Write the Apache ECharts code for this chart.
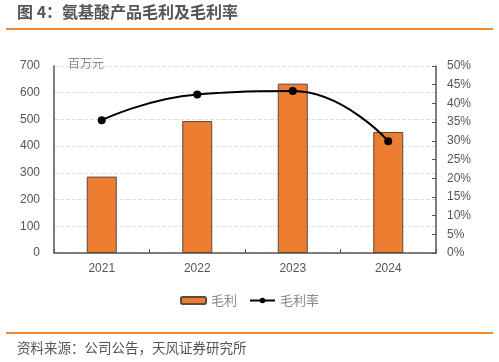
<!DOCTYPE html>
<html><head><meta charset="utf-8">
<script src="https://cdn.jsdelivr.net/npm/echarts@6/dist/echarts.min.js"></script>
<style>html,body{margin:0;padding:0;background:#fff}#c{width:499px;height:362px}</style>
</head><body><div id="c"></div>
<script>
var categories = ['2021', '2022', '2023', '2024'];
var grossProfit = [286, 494, 634, 453];
var grossMargin = [35.5, 42.4, 43.3, 29.9];
var leftTicks = [0, 700, 100];
var rightTicks = [0, 50, 5];
var FF = '"Liberation Sans","Noto Sans CJK SC",sans-serif';
var CJK = '"Noto Sans CJK SC",sans-serif';
var chart = echarts.init(document.getElementById('c'));
chart.setOption({
  animation: false,
  backgroundColor: '#fff',
  graphic: [
    {type: 'text', left: 17, top: 4, style: {text: '图 4：氨基酸产品毛利及毛利率', font: 'bold 16px ' + CJK, fill: '#555'}},
    {type: 'rect', shape: {x: 6, y: 28, width: 487, height: 2}, style: {fill: '#F08A2A'}},
    {type: 'rect', shape: {x: 6, y: 332, width: 487, height: 2}, style: {fill: '#F08A2A'}},
    {type: 'text', left: 17, top: 341, style: {text: '资料来源：公司公告，天风证券研究所', font: '13.5px ' + CJK, fill: '#555'}},
    {type: 'text', left: 68, top: 57, style: {text: '百万元', font: '12px ' + CJK, fill: '#888'}}
  ],
  legend: {
    bottom: 50, left: 'center', itemGap: 12, itemWidth: 25, itemHeight: 7,
    textStyle: {color: '#888', fontSize: 13, fontFamily: CJK},
    data: ['毛利', '毛利率']
  },
  grid: {left: 54, right: 63, top: 66, bottom: 109},
  xAxis: {
    type: 'category', data: categories, boundaryGap: true,
    axisLine: {lineStyle: {color: '#555', width: 1.5}},
    axisTick: {show: true, inside: true, length: 4, lineStyle: {color: '#555'}},
    axisLabel: {color: '#555', fontSize: 12, fontFamily: FF, margin: 10}
  },
  yAxis: [
    {
      type: 'value', min: leftTicks[0], max: leftTicks[1], interval: leftTicks[2],
      axisLine: {show: true, lineStyle: {color: '#555', width: 1.5}},
      axisTick: {show: false},
      splitLine: {show: true, lineStyle: {color: '#ddd', type: 'dashed'}},
      axisLabel: {color: '#555', fontSize: 12, fontFamily: FF, margin: 14}
    },
    {
      type: 'value', min: rightTicks[0], max: rightTicks[1], interval: rightTicks[2],
      position: 'right',
      axisLine: {show: true, lineStyle: {color: '#555', width: 1.5}},
      axisTick: {show: true, inside: true, length: 4, lineStyle: {color: '#555'}},
      splitLine: {show: false},
      axisLabel: {color: '#555', fontSize: 12, fontFamily: FF, margin: 11, formatter: '{value}%'}
    }
  ],
  series: [
    {
      name: '毛利', type: 'bar', data: grossProfit, barWidth: 30, yAxisIndex: 0,
      itemStyle: {color: '#ED7D31', borderColor: '#5a4a40', borderWidth: 1}
    },
    {
      name: '毛利率', type: 'line', data: grossMargin, yAxisIndex: 1, smooth: true,
      symbol: 'circle', symbolSize: 8,
      lineStyle: {color: '#000', width: 2}, itemStyle: {color: '#000'}
    }
  ]
});
</script></body></html>
